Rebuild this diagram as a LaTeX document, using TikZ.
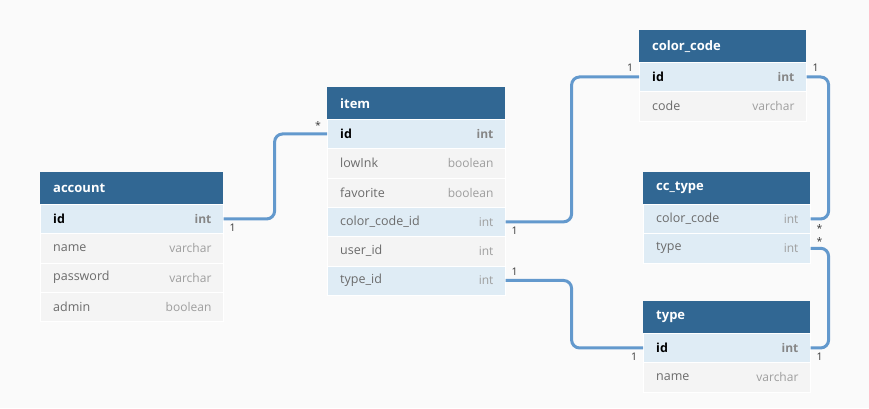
\documentclass[tikz,border=0pt]{standalone}
\usepackage{fontspec}
\setmainfont{Open Sans}
\definecolor{bg}{HTML}{FAFAFA}
\definecolor{head}{HTML}{316793}
\definecolor{keyrow}{HTML}{DFECF5}
\definecolor{plainrow}{HTML}{F4F4F4}
\definecolor{fieldc}{HTML}{6B6B6B}
\definecolor{typec}{HTML}{9E9E9E}
\definecolor{linec}{HTML}{6399CD}
\definecolor{labc}{HTML}{3A3A3A}
\tikzset{
  headbox/.style={fill=head, draw=none, inner sep=0pt, minimum height=32pt},
  headtext/.style={text=white, font=\fontsize{13}{15}\selectfont\bfseries, inner sep=0pt},
  rowbox/.style={draw=white, line width=0.6pt, inner sep=0pt, minimum height=29.3pt},
  fieldtext/.style={text=fieldc, font=\fontsize{12.5}{15}\selectfont, inner sep=0pt},
  typetext/.style={text=typec, font=\fontsize{12}{15}\selectfont, inner sep=0pt},
  pkfield/.style={text=black, font=\fontsize{12.5}{15}\selectfont\bfseries, inner sep=0pt},
  pktype/.style={text=typec!85!black, font=\fontsize{12}{15}\selectfont\bfseries, inner sep=0pt},
  conn/.style={draw=linec, line width=3pt, rounded corners=8pt},
  card/.style={text=labc, font=\fontsize{10.5}{12}\selectfont, inner sep=0pt},
}
% #1 name, #2 x, #3 y top, #4 width, #5 title
\newcommand\dbhead[5]{%
  \node[headbox, minimum width=#4, anchor=north west] (#1) at (#2,#3) {};
  \node[headtext, anchor=west] (#1-t) at ([xshift=13pt]#1.west) {#5};
}
% #1 name, #2 x, #3 y top, #4 width, #5 fill, #6 field, #7 type, #8 field style, #9 type style
\newcommand\dbrow[9]{%
  \node[rowbox, fill=#5, minimum width=#4, anchor=north west] (#1) at (#2,#3) {};
  \node[#8, anchor=west] (#1-f) at ([xshift=13pt]#1.west) {#6};
  \node[#9, anchor=east] (#1-y) at ([xshift=-12pt]#1.east) {#7};
}
\begin{document}
\begin{tikzpicture}[x=1pt, y=-1pt]
\fill[bg] (0,0) rectangle (869,408);
\useasboundingbox (0,0) rectangle (869,408);

% account
\dbhead{account}{40}{172}{183pt}{account}
\dbrow{acc-id}{40}{204}{183pt}{keyrow}{id}{int}{pkfield}{pktype}
\dbrow{acc-name}{40}{233.3}{183pt}{plainrow}{name}{varchar}{fieldtext}{typetext}
\dbrow{acc-pw}{40}{262.6}{183pt}{plainrow}{password}{varchar}{fieldtext}{typetext}
\dbrow{acc-admin}{40}{291.9}{183pt}{plainrow}{admin}{boolean}{fieldtext}{typetext}

% item
\dbhead{item}{327}{87}{178pt}{item}
\dbrow{item-id}{327}{119}{178pt}{keyrow}{id}{int}{pkfield}{pktype}
\dbrow{item-low}{327}{148.3}{178pt}{plainrow}{lowInk}{boolean}{fieldtext}{typetext}
\dbrow{item-fav}{327}{177.6}{178pt}{plainrow}{favorite}{boolean}{fieldtext}{typetext}
\dbrow{item-cc}{327}{206.9}{178pt}{keyrow}{color\_code\_id}{int}{fieldtext}{typetext}
\dbrow{item-user}{327}{236.2}{178pt}{plainrow}{user\_id}{int}{fieldtext}{typetext}
\dbrow{item-type}{327}{265.5}{178pt}{keyrow}{type\_id}{int}{fieldtext}{typetext}

% color_code
\dbhead{cc}{639}{30}{167pt}{color\_code}
\dbrow{cc-id}{639}{62}{167pt}{keyrow}{id}{int}{pkfield}{pktype}
\dbrow{cc-code}{639}{91.3}{167pt}{plainrow}{code}{varchar}{fieldtext}{typetext}

% cc_type
\dbhead{cct}{643}{172}{167pt}{cc\_type}
\dbrow{cct-cc}{643}{204}{167pt}{keyrow}{color\_code}{int}{fieldtext}{typetext}
\dbrow{cct-type}{643}{233.3}{167pt}{keyrow}{type}{int}{fieldtext}{typetext}

% type
\dbhead{type}{643}{301}{167pt}{type}
\dbrow{type-id}{643}{333}{167pt}{keyrow}{id}{int}{pkfield}{pktype}
\dbrow{type-name}{643}{362.3}{167pt}{plainrow}{name}{varchar}{fieldtext}{typetext}

% connectors
\draw[conn] (acc-id.east) -- ++(51,0) |- (item-id.west);
\draw[conn] (item-cc.east) -- ++(66,0) |- (cc-id.west);
\draw[conn] (item-type.east) -- ++(66,0) |- (type-id.west);
\draw[conn] (cc-id.east) -- ++(22,0) |- (cct-cc.east);
\draw[conn] (cct-type.east) -- ++(18,0) |- (type-id.east);

% cardinalities
\node[card] (c1) at ([shift={(9,9)}]acc-id.east) {1};
\node[card] (c2) at ([shift={(-9,-8)}]item-id.west) {*};
\node[card] (c3) at ([shift={(9,9)}]item-cc.east) {1};
\node[card] (c4) at ([shift={(9,-9)}]item-type.east) {1};
\node[card] (c5) at ([shift={(-9,-9)}]cc-id.west) {1};
\node[card] (c6) at ([shift={(9,-9)}]cc-id.east) {1};
\node[card] (c7) at ([shift={(9,10)}]cct-cc.east) {*};
\node[card] (c8) at ([shift={(9,-7)}]cct-type.east) {*};
\node[card] (c9) at ([shift={(-9,9)}]type-id.west) {1};
\node[card] (c10) at ([shift={(9,9)}]type-id.east) {1};
\end{tikzpicture}
\end{document}
